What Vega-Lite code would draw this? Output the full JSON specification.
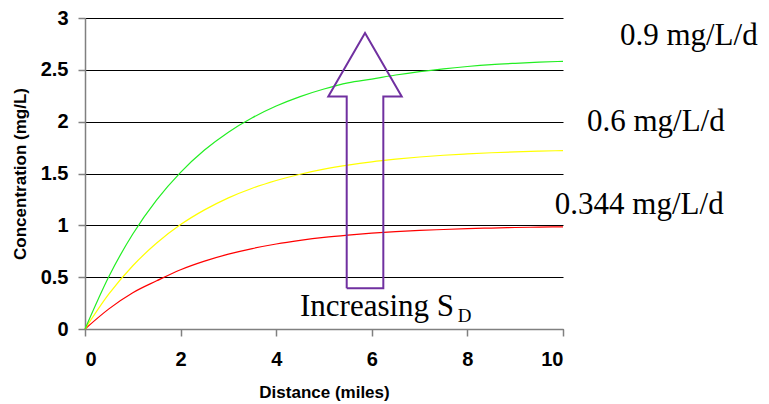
{
  "$schema": "https://vega.github.io/schema/vega-lite/v6.json",
  "autosize": "none",
  "width": 478,
  "height": 311,
  "padding": {"left": 85, "top": 18, "right": 206, "bottom": 75},
  "background": "white",
  "config": {"view": {"stroke": null}},
  "encoding": {
    "x": {"field": "x", "type": "quantitative", "scale": {"domain": [0, 10]},
      "axis": {"title": "Distance (miles)", "values": [0, 2, 4, 6, 8, 10], "grid": false, "format": "d",
        "domainColor": "#808080", "domainWidth": 1.5, "tickColor": "#808080", "tickWidth": 1.5, "tickSize": 7,
        "labelFont": "Liberation Sans", "labelFontWeight": "bold", "labelFontSize": 20, "labelColor": "black", "labelPadding": 13,
        "titleFont": "Liberation Sans", "titleFontWeight": "bold", "titleFontSize": 17, "titleColor": "black",
        "titleX": 239, "titleY": 63, "titleBaseline": "middle"}},
    "y": {"field": "c", "type": "quantitative", "scale": {"domain": [0, 3]},
      "axis": {"title": "Concentration (mg/L)", "values": [0, 0.5, 1, 1.5, 2, 2.5, 3], "format": "~g", "grid": true, "gridColor": "black", "gridWidth": 1, "gridOpacity": 1,
        "domainColor": "#808080", "domainWidth": 1.5, "tickColor": "#808080", "tickWidth": 1.5, "tickSize": 7,
        "labelFont": "Liberation Sans", "labelFontWeight": "bold", "labelFontSize": 20, "labelColor": "black", "labelPadding": 10,
        "titleFont": "Liberation Sans", "titleFontWeight": "bold", "titleFontSize": 17, "titleColor": "black",
        "titleX": -65, "titleY": 155.5, "titleAngle": -90, "titleBaseline": "middle"}}
  },
  "layer": [
    {
      "data": {"values": [
        {"x": 0, "c": 0, "s": "0.344"}, {"x": 0.5, "c": 0.194, "s": "0.344"}, {"x": 1, "c": 0.35, "s": "0.344"}, {"x": 1.5, "c": 0.465, "s": "0.344"}, {"x": 2, "c": 0.572, "s": "0.344"}, {"x": 2.5, "c": 0.655, "s": "0.344"}, {"x": 3, "c": 0.722, "s": "0.344"}, {"x": 3.5, "c": 0.776, "s": "0.344"}, {"x": 4, "c": 0.82, "s": "0.344"}, {"x": 4.5, "c": 0.855, "s": "0.344"}, {"x": 5, "c": 0.884, "s": "0.344"}, {"x": 5.5, "c": 0.906, "s": "0.344"}, {"x": 6, "c": 0.924, "s": "0.344"}, {"x": 6.5, "c": 0.939, "s": "0.344"}, {"x": 7, "c": 0.951, "s": "0.344"}, {"x": 7.5, "c": 0.96, "s": "0.344"}, {"x": 8, "c": 0.968, "s": "0.344"}, {"x": 8.5, "c": 0.974, "s": "0.344"}, {"x": 9, "c": 0.979, "s": "0.344"}, {"x": 9.5, "c": 0.983, "s": "0.344"}, {"x": 10, "c": 0.986, "s": "0.344"},
        {"x": 0, "c": 0, "s": "0.6"}, {"x": 0.5, "c": 0.338, "s": "0.6"}, {"x": 1, "c": 0.61, "s": "0.6"}, {"x": 1.5, "c": 0.829, "s": "0.6"}, {"x": 2, "c": 1.007, "s": "0.6"}, {"x": 2.5, "c": 1.149, "s": "0.6"}, {"x": 3, "c": 1.265, "s": "0.6"}, {"x": 3.5, "c": 1.358, "s": "0.6"}, {"x": 4, "c": 1.432, "s": "0.6"}, {"x": 4.5, "c": 1.493, "s": "0.6"}, {"x": 5, "c": 1.542, "s": "0.6"}, {"x": 5.5, "c": 1.581, "s": "0.6"}, {"x": 6, "c": 1.613, "s": "0.6"}, {"x": 6.5, "c": 1.638, "s": "0.6"}, {"x": 7, "c": 1.659, "s": "0.6"}, {"x": 7.5, "c": 1.676, "s": "0.6"}, {"x": 8, "c": 1.689, "s": "0.6"}, {"x": 8.5, "c": 1.7, "s": "0.6"}, {"x": 9, "c": 1.709, "s": "0.6"}, {"x": 9.5, "c": 1.716, "s": "0.6"}, {"x": 10, "c": 1.721, "s": "0.6"},
        {"x": 0, "c": 0, "s": "0.9"}, {"x": 0.5, "c": 0.507, "s": "0.9"}, {"x": 1, "c": 0.916, "s": "0.9"}, {"x": 1.5, "c": 1.245, "s": "0.9"}, {"x": 2, "c": 1.511, "s": "0.9"}, {"x": 2.5, "c": 1.726, "s": "0.9"}, {"x": 3, "c": 1.899, "s": "0.9"}, {"x": 3.5, "c": 2.038, "s": "0.9"}, {"x": 4, "c": 2.151, "s": "0.9"}, {"x": 4.5, "c": 2.242, "s": "0.9"}, {"x": 5, "c": 2.315, "s": "0.9"}, {"x": 5.5, "c": 2.374, "s": "0.9"}, {"x": 6, "c": 2.411, "s": "0.9"}, {"x": 6.5, "c": 2.45, "s": "0.9"}, {"x": 7, "c": 2.483, "s": "0.9"}, {"x": 7.5, "c": 2.51, "s": "0.9"}, {"x": 8, "c": 2.532, "s": "0.9"}, {"x": 8.5, "c": 2.55, "s": "0.9"}, {"x": 9, "c": 2.563, "s": "0.9"}, {"x": 9.5, "c": 2.574, "s": "0.9"}, {"x": 10, "c": 2.582, "s": "0.9"}
      ]},
      "mark": {"type": "line", "strokeWidth": 1.2, "interpolate": "monotone"},
      "encoding": {
        "color": {"field": "s", "type": "nominal", "legend": null,
          "scale": {"domain": ["0.344", "0.6", "0.9"], "range": ["#ff0000", "#ffff00", "#22ee22"]}}
      }
    },
    {
      "data": {"values": [
        {"x": 5.475, "c": 0.393, "o": 0}, {"x": 5.475, "c": 2.242, "o": 1}, {"x": 5.09, "c": 2.242, "o": 2}, {"x": 5.858, "c": 2.856, "o": 3}, {"x": 6.626, "c": 2.242, "o": 4}, {"x": 6.241, "c": 2.242, "o": 5}, {"x": 6.241, "c": 0.393, "o": 6}, {"x": 5.475, "c": 0.393, "o": 7}
      ]},
      "mark": {"type": "line", "stroke": "#7030A0", "strokeWidth": 2, "strokeJoin": "miter"},
      "encoding": {"order": {"field": "o", "type": "quantitative"}}
    },
    {
      "data": {"values": [
        {"x": 11.19, "c": 2.743, "t": "0.9 mg/L/d", "sz": 31},
        {"x": 10.5, "c": 1.914, "t": "0.6 mg/L/d", "sz": 31},
        {"x": 9.83, "c": 1.114, "t": "0.344 mg/L/d", "sz": 31},
        {"x": 4.498, "c": 0.13, "t": "Increasing S", "sz": 31},
        {"x": 7.8, "c": 0.063, "t": "D", "sz": 19}
      ]},
      "mark": {"type": "text", "font": "Liberation Serif", "align": "left", "baseline": "alphabetic", "color": "black"},
      "encoding": {
        "text": {"field": "t"},
        "size": {"field": "sz", "type": "quantitative", "scale": null}
      }
    }
  ]
}
